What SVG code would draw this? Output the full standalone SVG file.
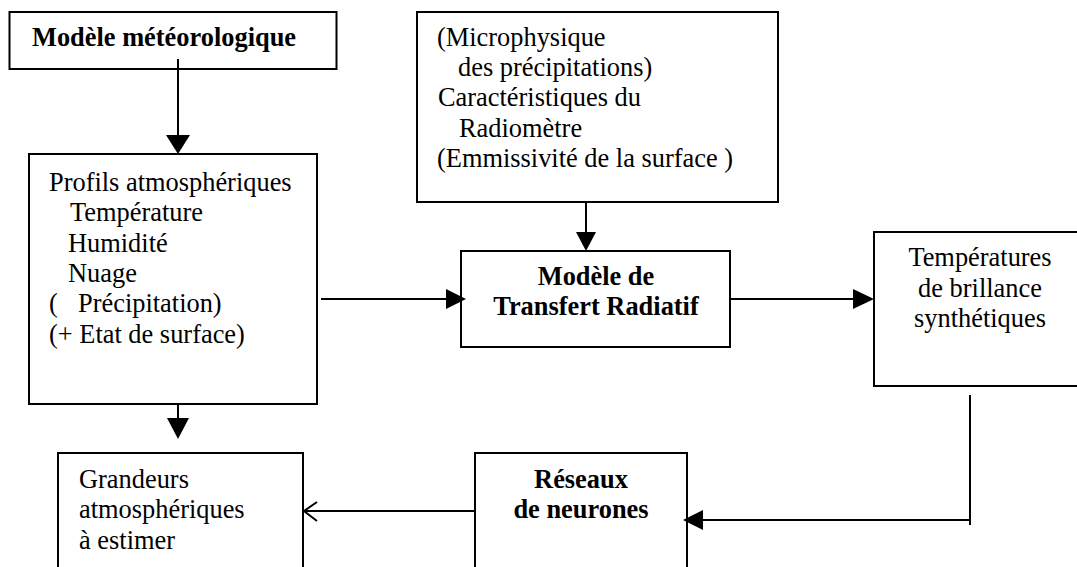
<svg xmlns="http://www.w3.org/2000/svg" width="1077" height="567" viewBox="0 0 1077 567">
<style>
.box{fill:#fff;stroke:#000;stroke-width:2}
.t{font-family:"Liberation Serif","Times New Roman",serif;font-size:26.4px;fill:#000}
.b{font-weight:bold}
.c{text-anchor:middle}
.ln{stroke:#000;stroke-width:2;fill:none}
.hd{fill:#000;stroke:none}
</style>
<rect width="1077" height="567" fill="#fff"/>
<g id="meteo">
<rect class="box" x="9.5" y="12" width="327" height="57"/>
<text class="t b" x="32" y="46">Modèle météorologique</text>
</g>
<g id="micro">
<rect class="box" x="417" y="12" width="361" height="190"/>
<text class="t" x="437" y="46">(Microphysique</text>
<text class="t" x="458" y="76">des précipitations)</text>
<text class="t" x="438" y="106">Caractéristiques du</text>
<text class="t" x="459" y="137">Radiomètre</text>
<text class="t" x="437" y="167">(Emmissivité de la surface )</text>
</g>
<g id="profils">
<rect class="box" x="29" y="154" width="288" height="250"/>
<text class="t" x="49" y="191">Profils atmosphériques</text>
<text class="t" x="70" y="221">Température</text>
<text class="t" x="68" y="252">Humidité</text>
<text class="t" x="68" y="282">Nuage</text>
<text class="t" x="49" y="312">(</text>
<text class="t" x="78" y="312">Précipitation)</text>
<text class="t" x="49" y="343">(+ Etat de surface)</text>
</g>
<g id="transfert">
<rect class="box" x="461" y="251" width="269" height="96"/>
<text class="t b c" x="596" y="285">Modèle de</text>
<text class="t b c" x="596" y="315">Transfert Radiatif</text>
</g>
<g id="temperatures">
<rect class="box" x="874" y="232" width="215" height="154"/>
<text class="t c" x="980" y="266">Températures</text>
<text class="t c" x="980" y="297">de brillance</text>
<text class="t c" x="980" y="327">synthétiques</text>
</g>
<g id="grandeurs">
<rect class="box" x="58" y="453" width="245" height="130"/>
<text class="t" x="79" y="488">Grandeurs</text>
<text class="t" x="79" y="518">atmosphériques</text>
<text class="t" x="79" y="549">à estimer</text>
</g>
<g id="reseaux">
<rect class="box" x="475" y="453" width="212" height="130"/>
<text class="t b c" x="581" y="488">Réseaux</text>
<text class="t b c" x="581" y="518">de neurones</text>
</g>
<g id="connectors">
<line class="ln" x1="178" y1="59" x2="178" y2="136"/>
<polygon class="hd" points="166,135 190,135 178,154"/>
<line class="ln" x1="586" y1="202" x2="586" y2="233"/>
<polygon class="hd" points="576,232 596,232 586,251"/>
<line class="ln" x1="321" y1="299" x2="447" y2="299"/>
<polygon class="hd" points="446,289 446,309 466,299"/>
<line class="ln" x1="730" y1="299" x2="854" y2="299"/>
<polygon class="hd" points="853,289 853,309 874,299"/>
<line class="ln" x1="178" y1="404" x2="178" y2="419"/>
<polygon class="hd" points="167,418 189,418 178,439"/>
<line class="ln" x1="970" y1="395" x2="970" y2="525"/>
<line class="ln" x1="970" y1="520" x2="702" y2="520"/>
<polygon class="hd" points="703,510 703,530 683,520"/>
<line class="ln" x1="475" y1="511" x2="304" y2="511"/>
<polyline class="ln" points="317,502 304,511 317,521"/>
</g>
</svg>
